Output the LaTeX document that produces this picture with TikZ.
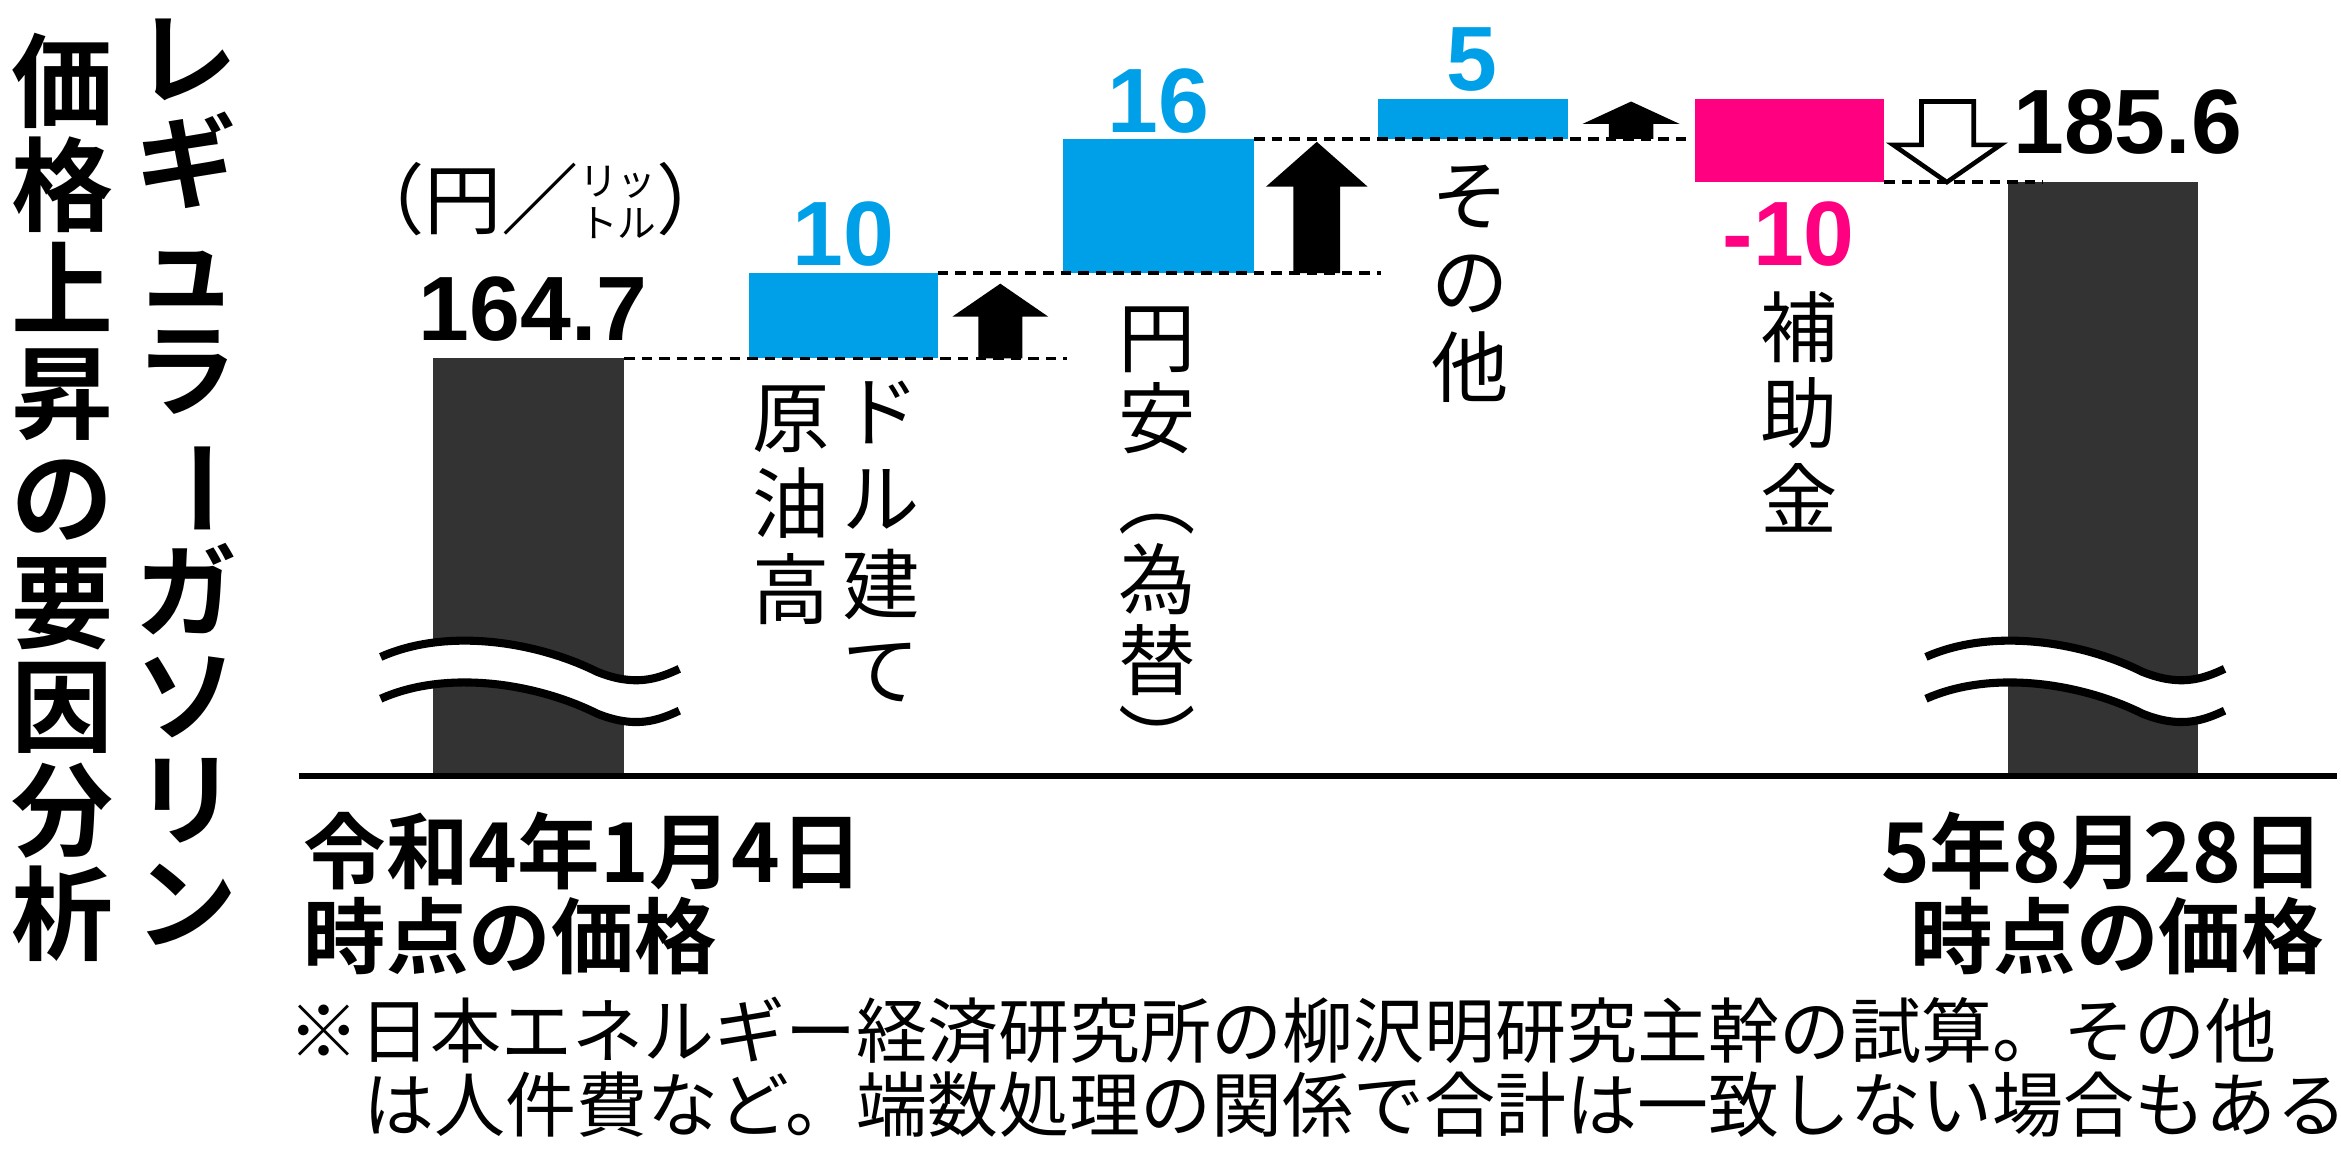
\documentclass[tikz,border=0pt]{standalone}
\usepackage{fontspec}
\setmainfont{Noto Sans CJK JP}[BoldFont={* Bold}]
\newfontfamily\hv{Liberation Sans}
\definecolor{bblue}{HTML}{00A0E9}
\definecolor{bpink}{HTML}{FF0080}
\definecolor{bgray}{HTML}{333333}
\newcommand\upar[5]{% xl xr ytop ybot headh
  \fill (#1,#3+#5) -- ({(#1+#2)/2},#3) -- (#2,#3+#5) -- ({#1+(#2-#1)*0.27},#3+#5) -- ({#1+(#2-#1)*0.27},#4) -- ({#1+(#2-#1)*0.73},#4) -- ({#1+(#2-#1)*0.73},#3+#5) -- cycle;}
\newcommand\vbar{\rotatebox[origin=c]{-90}{ー}}
\begin{document}
\begin{tikzpicture}[x=0.1493mm,y=-0.1493mm,
  dline/.style={line width=1pt,dash pattern=on 3pt off 2pt},
  num/.style={font=\hv\bfseries\fontsize{26}{26}\selectfont,inner sep=0},
  vlab/.style={align=center,inner sep=0,font=\fontsize{22}{24.5}\selectfont},
  title/.style={align=center,inner sep=0,font=\bfseries\fontsize{29}{29.6}\selectfont},
  bot/.style={inner sep=0,font=\bfseries\fontsize{23.5}{25}\selectfont},
  note/.style={inner sep=0,font=\fontsize{20.2}{24}\selectfont}]
\useasboundingbox (0,0) rectangle (1568,776);
% titles
\node[title,anchor=north] (t1) at (125,12) {レ\\ギ\\ュ\\ラ\\\vbar\\ガ\\ソ\\リ\\ン};
\node[title,anchor=north] (t2) at (42,22) {価\\格\\上\\昇\\の\\要\\因\\分\\析};
% bars
\fill[bgray] (290,240) rectangle (418,520);
\fill[bgray] (1345,122) rectangle (1472,520);
\fill[bblue] (502,183) rectangle (628,240);
\fill[bblue] (712,93) rectangle (840,183);
\fill[bblue] (923,66) rectangle (1050,93);
\fill[bpink] (1135,66) rectangle (1262,122);
% axis
\draw[line width=1.7pt] (200,520) -- (1565,520);
% dashed lines
\draw[dline] (418,240) -- (715,240);
\draw[dline] (628,183) -- (925,183);
\draw[dline] (840,93) -- (1132,93);
\draw[dline] (1262,122) -- (1368,122);
% arrows
\upar{638}{702}{190}{240}{22}
\upar{848}{916}{95}{183}{30}
\upar{1060}{1125}{68}{93}{15}
\draw[line width=1.3pt,fill=white] (1287,68) -- (1322,68) -- (1322,97) -- (1340,97) -- (1304,122) -- (1268,97) -- (1287,97) -- cycle;
% waves
\foreach \dx in {0,1035}{
 \begin{scope}[shift={(\dx,0)}]
 \draw[white,line width=11pt] (255,454) .. controls (300,432) and (360,444) .. (400,464) .. controls (425,474) and (440,469) .. (455,462);
 \draw[line width=2.3pt] (255,440) .. controls (300,420) and (360,430) .. (400,450) .. controls (425,460) and (440,455) .. (455,448);
 \draw[line width=2.3pt] (255,468) .. controls (300,448) and (360,458) .. (400,478) .. controls (425,488) and (440,483) .. (455,476);
 \end{scope}}
% numbers
\node[num] (n0) at (357,207) {164.7};
\node[num] (n4) at (1425,82) {185.6};
\node[num,text=bblue] (n1) at (565,157) {10};
\node[num,text=bblue] (n2) at (776,68) {16};
\node[num,text=bblue] (n3) at (986,40) {5};
\node[num,text=bpink] (n5) at (1198,157) {-10};
% unit
\node[inner sep=0,font=\fontsize{22}{22}\selectfont] (u) at (362,138) {（円／\raisebox{3pt}{\fontsize{11}{12}\selectfont\begin{tabular}{@{}l@{}}リッ\\トル\end{tabular}}）};
% vertical labels
\node[vlab,anchor=north] (l1) at (590,255) {ド\\ル\\建\\て};
\node[vlab,anchor=north] (l2) at (530,258) {原\\油\\高};
\node[vlab,anchor=north,font=\fontsize{22}{23}\selectfont] (l3) at (775,205) {円\\安\\︵\\為\\替\\︶};
\node[vlab,anchor=north] (l4) at (985,110) {そ\\の\\他};
\node[vlab,anchor=north] (l5) at (1205,195) {補\\助\\金};
% bottom
\node[bot,anchor=west] (b1) at (203,570) {令和4年1月4日};
\node[bot,anchor=west] (b2) at (203,627) {時点の価格};
\node[bot,anchor=east] (b3) at (1557,570) {5年8月28日};
\node[bot,anchor=east] (b4) at (1557,627) {時点の価格};
\node[note,anchor=west] (m1) at (193,690) {※日本エネルギー経済研究所の柳沢明研究主幹の試算。その他};
\node[note,anchor=west] (m2) at (243,740) {は人件費など。端数処理の関係で合計は一致しない場合もある};
\end{tikzpicture}
\end{document}
